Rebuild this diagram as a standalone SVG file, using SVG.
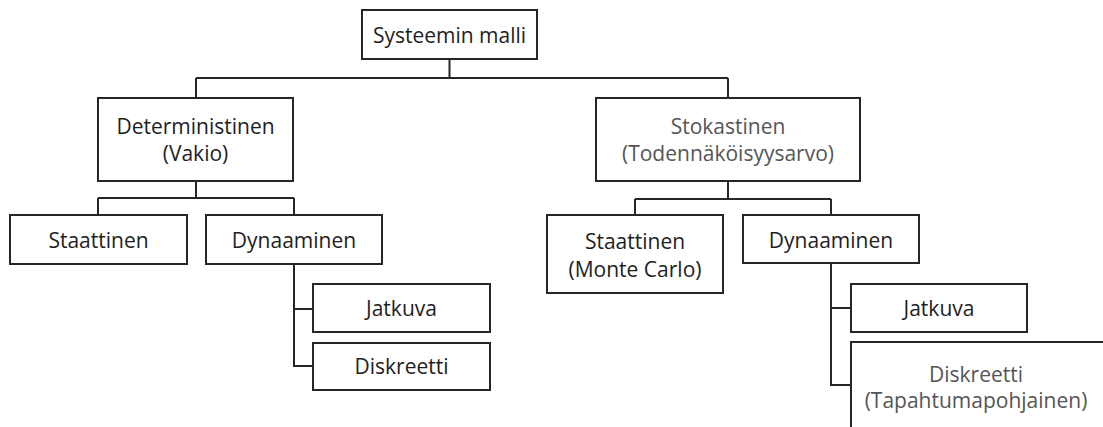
<svg xmlns="http://www.w3.org/2000/svg" width="1103" height="427" viewBox="0 0 1103 427">
  <style>
    .box { fill: #ffffff; stroke: #262626; stroke-width: 2; }
    .link { fill: none; stroke: #262626; stroke-width: 2; }
    text { font-family: "Open Sans", "Noto Sans", "DejaVu Sans", sans-serif; font-size: 21px; text-anchor: middle; fill: #1e1e1e; }
    text.soft { fill: #555555; }
  </style>
  <rect width="1103" height="427" fill="#ffffff"/>

  <!-- tree connectors -->
  <g id="connectors">
    <path class="link" d="M449.5 59 V78 M196 78 H728 M196 78 V98 M728 78 V98"/>
    <path class="link" d="M196 181 V198 M98 198 H294 M98 198 V215 M294 198 V215"/>
    <path class="link" d="M294 264 V366 H313 M294 309 H313"/>
    <path class="link" d="M728 181 V199 M635 199 H831 M635 199 V215 M831 199 V215"/>
    <path class="link" d="M831 263 V385 H851 M831 308 H851"/>
  </g>

  <g id="root">
    <rect class="box" x="362" y="10" width="175" height="49"/>
    <text x="449.5" y="43">Systeemin malli</text>
  </g>

  <g id="deterministinen">
    <rect class="box" x="98" y="98" width="195" height="83"/>
    <text x="195.5" y="134">Deterministinen</text>
    <text x="195.5" y="161">(Vakio)</text>
  </g>

  <g id="stokastinen">
    <rect class="box" x="596" y="98" width="264" height="83"/>
    <text class="soft" x="728" y="134">Stokastinen</text>
    <text class="soft" x="728" y="161">(Todennäköisyysarvo)</text>
  </g>

  <g id="det-staattinen">
    <rect class="box" x="10" y="215" width="177" height="49"/>
    <text x="98.5" y="248">Staattinen</text>
  </g>

  <g id="det-dynaaminen">
    <rect class="box" x="206" y="215" width="176" height="49"/>
    <text x="294" y="248">Dynaaminen</text>
  </g>

  <g id="det-jatkuva">
    <rect class="box" x="313" y="284" width="177" height="48"/>
    <text x="401.5" y="316">Jatkuva</text>
  </g>

  <g id="det-diskreetti">
    <rect class="box" x="313" y="343" width="177" height="47"/>
    <text x="401.5" y="374">Diskreetti</text>
  </g>

  <g id="sto-staattinen">
    <rect class="box" x="547" y="215" width="176" height="78"/>
    <text x="635" y="249">Staattinen</text>
    <text x="635" y="277">(Monte Carlo)</text>
  </g>

  <g id="sto-dynaaminen">
    <rect class="box" x="743" y="215" width="176" height="48"/>
    <text x="831" y="248">Dynaaminen</text>
  </g>

  <g id="sto-jatkuva">
    <rect class="box" x="851" y="284" width="176" height="48"/>
    <text x="939" y="316">Jatkuva</text>
  </g>

  <g id="sto-diskreetti">
    <rect class="box" x="851" y="342" width="254" height="100"/>
    <text class="soft" x="976" y="382">Diskreetti</text>
    <text class="soft" x="976" y="408">(Tapahtumapohjainen)</text>
  </g>
</svg>
